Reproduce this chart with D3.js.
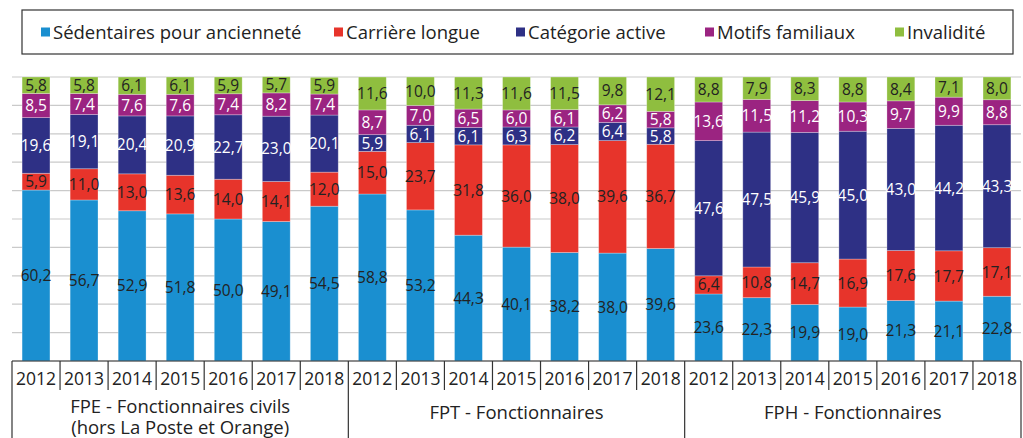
<!DOCTYPE html>
<html>
<head>
<meta charset="utf-8">
<script src="https://cdn.jsdelivr.net/npm/d3@7"></script>
<style>
body{margin:0;background:#fff;}
text{font-family:"Open Sans",sans-serif;}
</style>
</head>
<body>
<script>
var width = 1023, height = 438;
var margin = {left:12,right:2,top:77,bottom:77};

var years = ["2012","2013","2014","2015","2016","2017","2018"];
var groups = ["FPE - Fonctionnaires civils|(hors La Poste et Orange)","FPT - Fonctionnaires","FPH - Fonctionnaires"];
var seriesNames = ["Sédentaires pour ancienneté","Carrière longue","Catégorie active","Motifs familiaux","Invalidité"];
var colors = ["#1a8fd0","#e7342b","#2e3085","#9b2481","#8fbe3f"];
var labelColors = ["#222","#222","#fff","#fff","#222"];

// values per group, 7 years each
var sedentaires = [60.2,56.7,52.9,51.8,50.0,49.1,54.5, 58.8,53.2,44.3,40.1,38.2,38.0,39.6, 23.6,22.3,19.9,19.0,21.3,21.1,22.8];
var carriere    = [5.9,11.0,13.0,13.6,14.0,14.1,12.0, 15.0,23.7,31.8,36.0,38.0,39.6,36.7, 6.4,10.8,14.7,16.9,17.6,17.7,17.1];
var active      = [19.6,19.1,20.4,20.9,22.7,23.0,20.1, 5.9,6.1,6.1,6.3,6.2,6.4,5.8, 47.6,47.5,45.9,45.0,43.0,44.2,43.3];
var familiaux   = [8.5,7.4,7.6,7.6,7.4,8.2,7.4, 8.7,7.0,6.5,6.0,6.1,6.2,5.8, 13.6,11.5,11.2,10.3,9.7,9.9,8.8];
var invalidite  = [5.8,5.8,6.1,6.1,5.9,5.7,5.9, 11.6,10.0,11.3,11.6,11.5,9.8,12.1, 8.8,7.9,8.3,8.8,8.4,7.1,8.0];
var yTicks = [0,10,20,30,40,50,60,70,80,90,100];

var allSeries = [sedentaires,carriere,active,familiaux,invalidite];

var rows = d3.range(21).map(function(i){
  var r = {i:i, year:years[i%7]};
  allSeries.forEach(function(s,k){ r["s"+k] = s[i]; });
  return r;
});

var svg = d3.select("body").append("svg").attr("width",width).attr("height",height);

var x = d3.scaleBand().domain(d3.range(21)).range([margin.left,width-margin.right])
          .paddingInner(0.42).paddingOuter(0.21);
var y = d3.scaleLinear().domain([0,100]).range([361,77]);

// gridlines
svg.append("g").selectAll("line").data(yTicks).enter().append("line")
   .attr("x1",margin.left).attr("x2",width-margin.right)
   .attr("y1",function(d){return y(d);}).attr("y2",function(d){return y(d);})
   .attr("stroke","#cacaca").attr("stroke-width",1.2);

var stack = d3.stack().keys(d3.range(5).map(function(k){return "s"+k;}));
var stacked = stack(rows);

var layers = svg.append("g").selectAll("g").data(stacked).enter().append("g")
   .attr("fill",function(d,k){return colors[k];});

layers.selectAll("rect").data(function(d){return d;}).enter().append("rect")
   .attr("x",function(d){return x(d.data.i);})
   .attr("width",x.bandwidth())
   .attr("y",function(d){return y(d[1]);})
   .attr("height",function(d){return y(d[0])-y(d[1]);})
   .attr("stroke","#ffffff").attr("stroke-opacity",0.35).attr("stroke-width",0.8);

layers.each(function(layer,k){
  d3.select(this).selectAll("text").data(layer).enter().append("text")
    .attr("x",function(d){return x(d.data.i)+x.bandwidth()/2;})
    .attr("y",function(d){return (y(d[0])+y(d[1]))/2;})
    .attr("dy","0.36em")
    .attr("text-anchor","middle")
    .attr("fill",labelColors[k])
    .attr("font-size","15.5px")
    .text(function(d){return d3.format(".1f")(d[1]-d[0]).replace(".",",");});
});

// x axis box
var step = x.step();
var axis = svg.append("g").attr("stroke","#333").attr("stroke-width",1.2);
axis.append("line").attr("x1",margin.left).attr("x2",width-margin.right).attr("y1",361).attr("y2",361);
axis.selectAll("line.tick").data(d3.range(22)).enter().append("line")
   .attr("class","tick")
   .attr("x1",function(i){return margin.left+i*step;})
   .attr("x2",function(i){return margin.left+i*step;})
   .attr("y1",361)
   .attr("y2",function(i){return i%7==0 ? height : 390;});

svg.append("g").selectAll("text").data(rows).enter().append("text")
   .attr("x",function(d){return x(d.i)+x.bandwidth()/2;})
   .attr("y",385)
   .attr("text-anchor","middle")
   .attr("fill","#222")
   .attr("font-size","17.5px")
   .text(function(d){return d.year;});

groups.forEach(function(g,j){
  var cx = margin.left + (j*7+3.5)*step;
  var lines = g.split("|");
  var t = svg.append("text").attr("text-anchor","middle").attr("fill","#222").attr("font-size","18.5px");
  if(lines.length==1){
    t.append("tspan").attr("x",cx).attr("y",419).text(lines[0]);
  } else {
    t.append("tspan").attr("x",cx).attr("y",413).text(lines[0]);
    t.append("tspan").attr("x",cx).attr("y",434).text(lines[1]);
  }
});

// legend
svg.append("rect").attr("x",22).attr("y",10).attr("width",991).attr("height",44)
   .attr("fill","none").attr("stroke","#333").attr("stroke-width",1.2);
var legendX = [41,334,516,705,895];
var leg = svg.append("g").selectAll("g").data(seriesNames).enter().append("g")
   .attr("transform",function(d,k){return "translate("+legendX[k]+",32)";});
leg.append("rect").attr("x",0).attr("y",-4.5).attr("width",9).attr("height",9)
   .attr("fill",function(d,k){return colors[k];});
leg.append("text").attr("x",12).attr("y",6.5).attr("fill","#222").attr("font-size","18.5px")
   .text(function(d){return d;});
</script>
</body>
</html>
